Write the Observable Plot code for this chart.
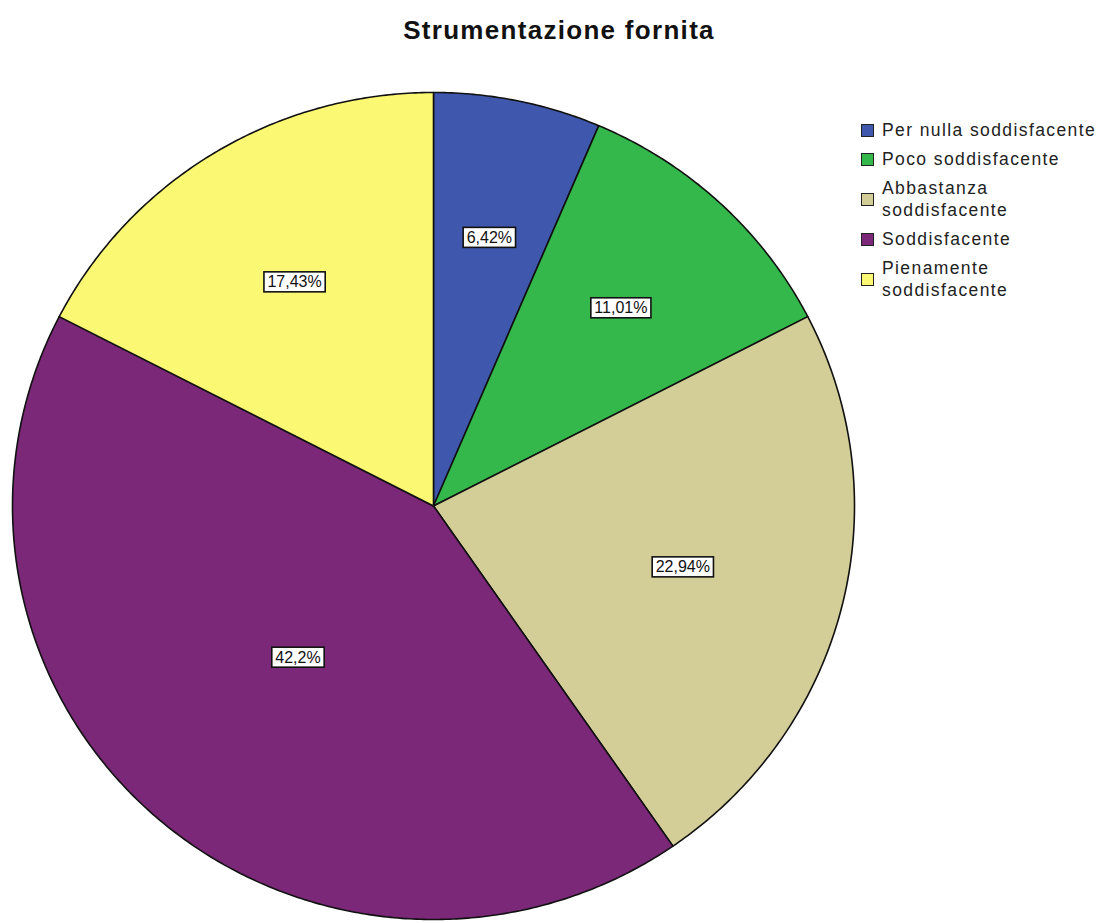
<!DOCTYPE html>
<html><head><meta charset="utf-8">
<script src="https://cdn.jsdelivr.net/npm/d3@7"></script>
<script src="https://cdn.jsdelivr.net/npm/@observablehq/plot@0.6"></script>
<style>
body{margin:0;background:#fff;font-family:"Liberation Sans",Arial,sans-serif;}
#wrap{position:relative;width:1105px;height:923px;overflow:hidden;}
#title{position:absolute;left:0;width:1118px;top:15px;text-align:center;font-weight:bold;font-size:26px;letter-spacing:1.3px;color:#111;}
#chart{position:absolute;left:0;top:0;}
#legend{position:absolute;left:861px;top:119px;font-size:17.5px;letter-spacing:1.4px;color:#222;}
.item{display:flex;align-items:center;margin-bottom:7px;line-height:22px;white-space:nowrap;}
.sw{width:11px;height:11px;border:1px solid #222;margin-right:8px;flex:none;}
</style></head>
<body>
<div id="wrap">
  <div id="chart"></div>
  <div id="title">Strumentazione fornita</div>
  <div id="legend"></div>
</div>
<script>
const categories = ["Per nulla soddisfacente","Poco soddisfacente","Abbastanza soddisfacente","Soddisfacente","Pienamente soddisfacente"];
const legendLines = [["Per nulla soddisfacente"],["Poco soddisfacente"],["Abbastanza","soddisfacente"],["Soddisfacente"],["Pienamente","soddisfacente"]];
const percentages = [6.42, 11.01, 22.94, 42.2, 17.43];
const percentLabels = ["6,42%","11,01%","22,94%","42,2%","17,43%"];
const colors = ["#3f57ac","#34b84c","#d3ce97","#7b2879","#fbf874"];

const arcs = d3.pie().sort(null).value(d => d)(percentages);
const pts = [];
const labels = [];
arcs.forEach((a, i) => {
  const cat = categories[i];
  pts.push({cat, x: 0, y: 0});
  const n = Math.max(2, Math.ceil((a.endAngle - a.startAngle) / (Math.PI / 360)));
  for (let k = 0; k <= n; k++) {
    const t = a.startAngle + (a.endAngle - a.startAngle) * k / n;
    pts.push({cat, x: Math.sin(t), y: Math.cos(t)});
  }
  pts.push({cat, x: 0, y: 0});
  const half = (a.endAngle - a.startAngle) / 2;
  const mid = a.startAngle + half;
  const d = 2 * Math.sin(half) / (3 * half);
  labels.push({x: d * Math.sin(mid), y: d * Math.cos(mid), text: percentLabels[i]});
});

const svg = Plot.plot({
  width: 1105, height: 923, margin: 0,
  style: {background: "transparent", fontFamily: "'Liberation Sans', Arial, sans-serif"},
  x: {domain: [-1, 1], range: [12, 854], axis: null},
  y: {domain: [-1, 1], range: [919, 92], axis: null},
  color: {domain: categories, range: colors},
  marks: [
    Plot.line(pts, {x: "x", y: "y", z: "cat", fill: "cat", stroke: "#111", strokeWidth: 1.6, strokeLinejoin: "round"}),
    Plot.text(labels, {x: "x", y: "y", text: "text", fontSize: 16, fill: "#111"})
  ]
});
document.getElementById("chart").appendChild(svg);

// white boxes behind percentage labels
svg.querySelectorAll('g[aria-label="text"] text').forEach(t => {
  const b = t.getBBox();
  const r = document.createElementNS("http://www.w3.org/2000/svg", "rect");
  r.setAttribute("x", b.x - 3.5);
  r.setAttribute("y", b.y - 1.5);
  r.setAttribute("width", b.width + 7);
  r.setAttribute("height", b.height + 3);
  r.setAttribute("fill", "white");
  r.setAttribute("stroke", "#111");
  r.setAttribute("stroke-width", 1.6);
  const tr = t.getAttribute("transform");
  if (tr) r.setAttribute("transform", tr);
  t.parentNode.insertBefore(r, t);
});

const legend = document.getElementById("legend");
categories.forEach((c, i) => {
  const item = document.createElement("div");
  item.className = "item";
  const sw = document.createElement("div");
  sw.className = "sw";
  sw.style.background = colors[i];
  const lab = document.createElement("div");
  lab.innerHTML = legendLines[i].join("<br>");
  item.appendChild(sw);
  item.appendChild(lab);
  legend.appendChild(item);
});
</script>
</body></html>
